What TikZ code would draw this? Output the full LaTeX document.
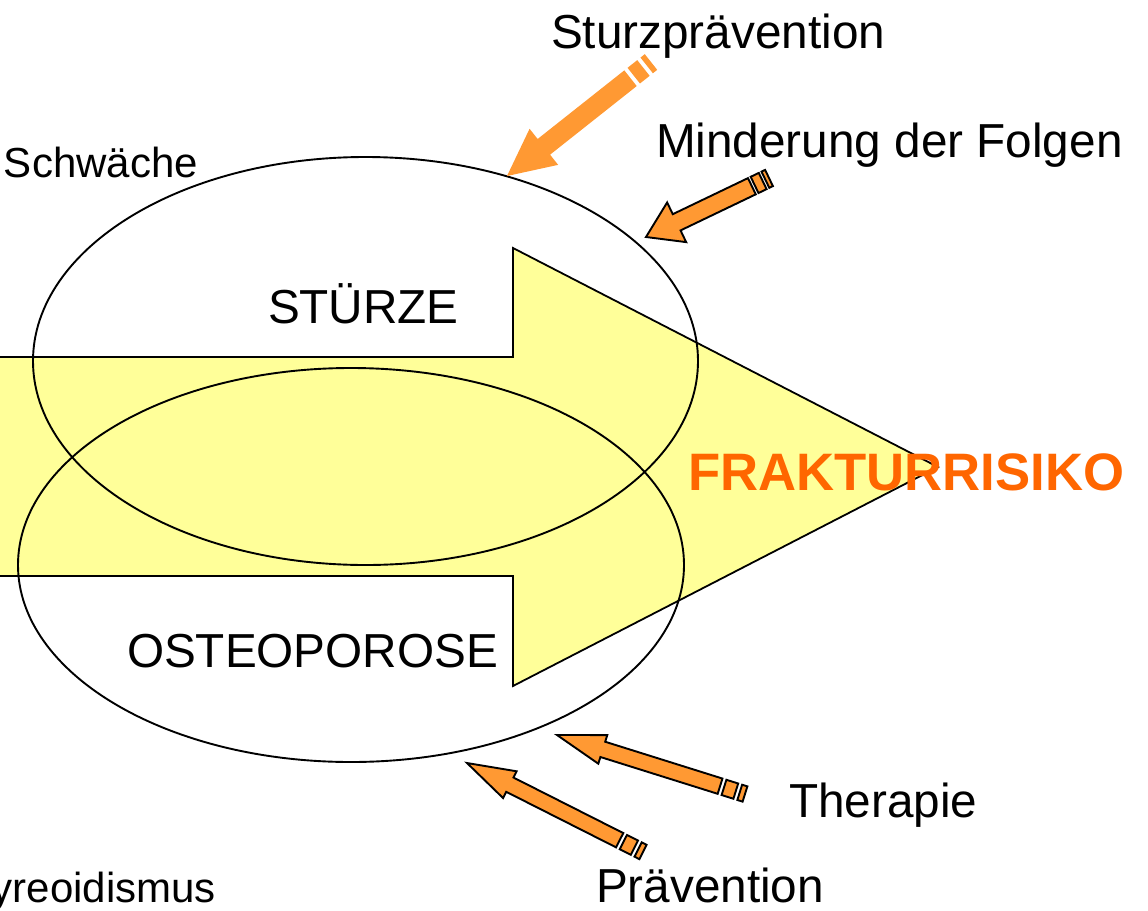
\documentclass[tikz,border=0pt]{standalone}
\usepackage{fontspec}
\setmainfont{Liberation Sans}
\usetikzlibrary{calc}
\definecolor{arrowor}{RGB}{255,153,51}
\definecolor{txtor}{RGB}{255,102,0}
\definecolor{paleyel}{RGB}{255,255,153}
\tikzset{
  lbl/.style={inner sep=0pt, outer sep=0pt, font=\fontsize{47.7}{57}\selectfont},
  smalllbl/.style={inner sep=0pt, outer sep=0pt, font=\fontsize{42}{50}\selectfont},
  biglbl/.style={inner sep=0pt, outer sep=0pt, text=txtor, font=\fontsize{52.7}{63}\selectfont\bfseries},
  bigarrow/.style={fill=paleyel, draw=black, line width=1.8pt, line join=miter},
  ring/.style={draw=black, line width=1.9pt},
  orfill/.style={fill=arrowor},
  orarrow/.style={fill=arrowor, draw=black, line width=1.9pt, line join=miter},
}
% #1 style, #2 tip, #3 tail, #4 shaft half width, #5 head half width, #6 head length, #7 stripe unit
\newcommand\striparrow[7]{%
  \path let \p1=(#2), \p2=(#3),
    \n1={atan2(\y2-\y1,\x2-\x1)}, \n2={veclen(\x2-\x1,\y2-\y1)} in
    \pgfextra{\xdef\saAng{\n1}\xdef\saLen{\n2}};
  \pgfmathsetmacro\saA{\saLen-#7}%
  \pgfmathsetmacro\saB{\saA-0.75*#7}%
  \pgfmathsetmacro\saC{\saB-2.25*#7}%
  \pgfmathsetmacro\saD{\saC-0.75*#7}%
  \begin{scope}[shift={(#2)}, rotate=\saAng, x=1pt, y=1pt]
    \path[#1] (0,0) -- (#6,#5) -- (#6,#4) -- (\saD,#4) -- (\saD,-#4) -- (#6,-#4) -- (#6,-#5) -- cycle
      (\saC,#4) rectangle (\saB,-#4)
      (\saA,#4) rectangle (\saLen,-#4);
  \end{scope}}
\begin{document}
\begin{tikzpicture}[x=1pt,y=-1pt]
\useasboundingbox[fill=white] (0,0) rectangle (1148,910);
% big yellow arrow
\draw[bigarrow] (-6,357) -- (513,357) -- (513,248) -- (938,467) -- (513,686) -- (513,576) -- (-6,576) -- cycle;
% ellipses
\draw[ring] (365.5,361) ellipse [x radius=332.5, y radius=204];
\draw[ring] (351,565) ellipse [x radius=333, y radius=197];
% labels
\node[lbl, anchor=base west] (sturzp) at (551,48) {Sturzprävention};
\node[lbl, anchor=base west] (minder) at (656,157) {Minderung der Folgen};
\node[smalllbl, anchor=base west] (schw) at (4,177) {Schwäche};
\node[lbl, anchor=base west] (stuerze) at (268,323) {STÜRZE};
\node[lbl, anchor=base west] (osteo) at (127,667) {OSTEOPOROSE};
\node[biglbl, anchor=base west] (fraktur) at (688,490) {FRAKTURRISIKO};
\node[lbl, anchor=base west] (thera) at (789,817) {Therapie};
\node[lbl, anchor=base west] (praev) at (596,902) {\smash{Prävention}};
\node[smalllbl, anchor=base east] (hyper) at (216,902) {\smash{yreoidismus}};
% striped arrows
\coordinate (sturzTip) at (507,176);
\coordinate (sturzTail) at (651,62);
\coordinate (mindTip) at (646,237);
\coordinate (mindTail) at (769,178);
\coordinate (therTip) at (557,735);
\coordinate (therTail) at (745,794);
\coordinate (praeTip) at (467,763);
\coordinate (praeTail) at (643,852);
\striparrow{orfill}{sturzTip}{sturzTail}{10}{23}{47}{5.5}
\striparrow{orarrow}{mindTip}{mindTail}{9}{22}{34}{4}
\striparrow{orarrow}{therTip}{therTail}{8}{15}{48}{5.5}
\striparrow{orarrow}{praeTip}{praeTail}{8}{15}{48}{5.5}
\end{tikzpicture}
\end{document}
